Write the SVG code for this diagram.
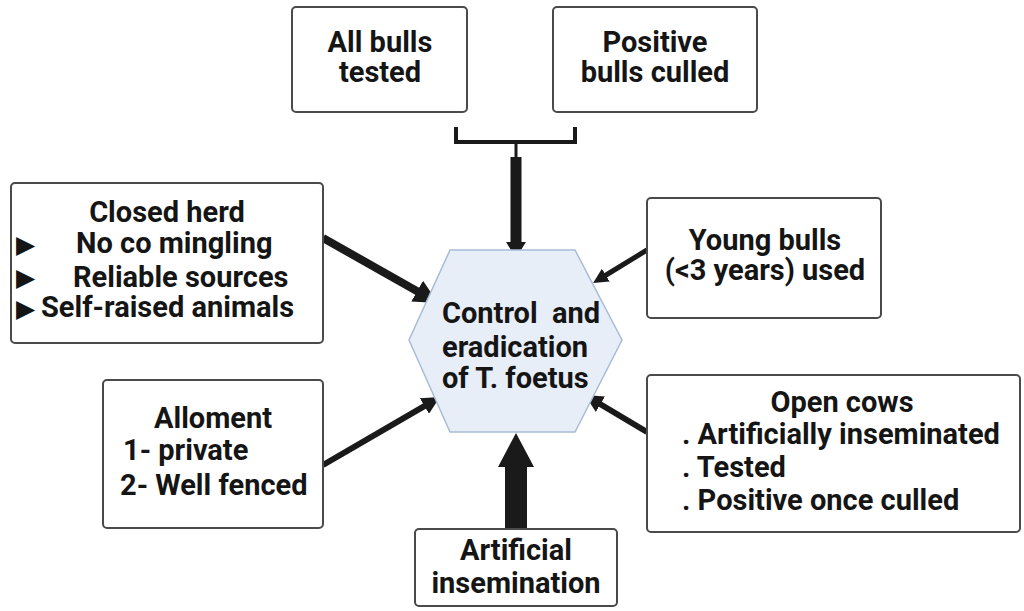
<svg xmlns="http://www.w3.org/2000/svg" width="1024" height="611" viewBox="0 0 1024 611">
<style>
.box{fill:#ffffff;stroke:#4a4a4a;stroke-width:2}
.t{font-family:Roboto,"Liberation Sans",Arial,sans-serif;font-weight:bold;font-size:29px;fill:#151515}
.c{text-anchor:middle}
.b{font-family:"DejaVu Sans",sans-serif;font-size:25px;fill:#151515}
.arr{stroke:#1a1a1a;fill:none;marker-end:url(#ah)}
.solid{fill:#1a1a1a;stroke:none}
</style>
<defs>
<marker id="ah" viewBox="0 0 10 10" refX="3" refY="5" markerWidth="3" markerHeight="3" orient="auto" markerUnits="strokeWidth">
<path d="M0,0 L10,5 L0,10 z" fill="#1a1a1a"/>
</marker>
</defs>
<rect width="1024" height="611" fill="#ffffff"/>

<g id="connectors">
<path d="M456,127 V142 H575 V127" fill="none" stroke="#1a1a1a" stroke-width="4"/>
<rect class="solid" x="514.5" y="142" width="3" height="16"/>
<path class="solid" d="M510.5,157 L521.5,157 L521.5,242 L526,242 L516,258 L506,242 L510.5,242 Z"/>
<line class="arr" x1="323" y1="238" x2="423.4" y2="294.7" stroke-width="8"/>
<line class="arr" x1="647" y1="250" x2="602" y2="277.5" stroke-width="5"/>
<line class="arr" x1="647" y1="432" x2="595.8" y2="401.5" stroke-width="6"/>
<line class="arr" x1="323" y1="465" x2="429.1" y2="403.3" stroke-width="6"/>
<path class="solid" d="M505,529 L505,467 L498,467 L516,433 L534,467 L527,467 L527,529 Z"/>
</g>

<g id="center">
<polygon points="450,250 575,250 622,340 575,432 450,432 409,340" fill="#e8eef8" stroke="#a9bcd6" stroke-width="1.5"/>
<text class="t" x="442" y="323" xml:space="preserve">Control  and</text>
<text class="t" x="442" y="357">eradication</text>
<text class="t" x="442" y="388">of T. foetus</text>
</g>

<g id="all-bulls">
<rect class="box" x="292" y="7" width="175" height="105" rx="4"/>
<text class="t c" x="380" y="52">All bulls</text>
<text class="t c" x="380" y="82">tested</text>
</g>

<g id="positive-bulls">
<rect class="box" x="553" y="7" width="204" height="105" rx="4"/>
<text class="t c" x="655" y="52">Positive</text>
<text class="t c" x="655" y="82">bulls culled</text>
</g>

<g id="closed-herd">
<rect class="box" x="11" y="183" width="312" height="160" rx="4"/>
<text class="t c" x="167" y="222">Closed herd</text>
<text class="b" x="16" y="253">▶</text>
<text class="t" x="76" y="253">No co mingling</text>
<text class="b" x="16" y="286">▶</text>
<text class="t" x="73" y="287">Reliable sources</text>
<text class="b" x="16" y="317">▶</text>
<text class="t" x="41" y="317">Self-raised animals</text>
</g>

<g id="young-bulls">
<rect class="box" x="647" y="198" width="234" height="120" rx="4"/>
<text class="t c" x="765" y="250">Young bulls</text>
<text class="t c" x="765" y="280">(&lt;3 years) used</text>
</g>

<g id="allotment">
<rect class="box" x="103" y="380" width="220" height="148" rx="4"/>
<text class="t c" x="213" y="428">Alloment</text>
<text class="t" x="123" y="460">1- private</text>
<text class="t" x="120" y="495">2- Well fenced</text>
</g>

<g id="open-cows">
<rect class="box" x="647" y="375" width="373" height="157" rx="4"/>
<text class="t c" x="842" y="412">Open cows</text>
<text class="t" x="682" y="444">. Artificially inseminated</text>
<text class="t" x="682" y="477">. Tested</text>
<text class="t" x="682" y="510">. Positive once culled</text>
</g>

<g id="artificial-insemination">
<rect class="box" x="415" y="529" width="202" height="77" rx="4"/>
<text class="t c" x="516" y="560">Artificial</text>
<text class="t c" x="516" y="593">insemination</text>
</g>
</svg>
